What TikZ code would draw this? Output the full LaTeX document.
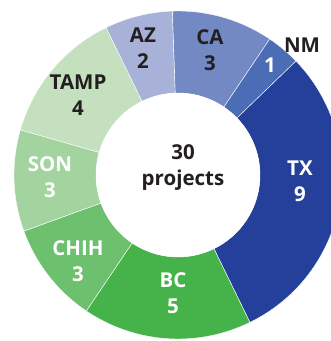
\documentclass[tikz,border=0pt]{standalone}
\usepackage{fontspec}
\setmainfont{Open Sans}
\definecolor{cCA}{HTML}{7389C4}
\definecolor{cAZ}{HTML}{A8B2D8}
\definecolor{cNM}{HTML}{4A6DB5}
\definecolor{cTX}{HTML}{24409A}
\definecolor{cBC}{HTML}{45B34A}
\definecolor{cCHIH}{HTML}{6CC06E}
\definecolor{cSON}{HTML}{A3D49F}
\definecolor{cTAMP}{HTML}{C4E0BF}
\definecolor{darktxt}{HTML}{231F20}
\begin{document}
\begin{tikzpicture}[x=1pt,y=1pt,
  lbl/.style={font=\fontsize{20.5}{26}\selectfont\bfseries, align=center, inner sep=0pt},
  dk/.style={lbl, text=darktxt},
  wt/.style={lbl, text=white}]
\useasboundingbox (0,0) rectangle (331,341);
\clip (0,0) rectangle (331,341);
\begin{scope}[shift={(178,166)}]
\foreach \a/\b/\c in {92/56/cCA, 56/44/cNM, 44/-64/cTX, -64/-124/cBC, -124/-160/cCHIH, -160/-196/cSON, -196/-244/cTAMP, -244/-268/cAZ}{
  \fill[\c, draw=white, line width=0.4pt] (\a:164) arc[start angle=\a, end angle=\b, radius=164] -- (\b:82) arc[start angle=\b, end angle=\a, radius=82] -- cycle;
}
\fill[white] (0,0) circle[radius=82];
\end{scope}
\node[dk] (az) at (143,293) {AZ\\2};
\node[dk] (ca) at (210,291) {CA\\3};
\node[dk] (nm) at (302,296) {NM};
\node[wt] (nm1) at (270,276) {1};
\node[dk] (tamp) at (78,246) {TAMP\\4};
\node[wt] (tx) at (300,160) {TX\\9};
\node[wt] (son) at (50,164) {SON\\3};
\node[wt] (chih) at (78,80) {CHIH\\3};
\node[wt] (bc) at (173,48) {BC\\5};
\node[dk] (ctr) at (183,173) {30\\projects};
\end{tikzpicture}
\end{document}
